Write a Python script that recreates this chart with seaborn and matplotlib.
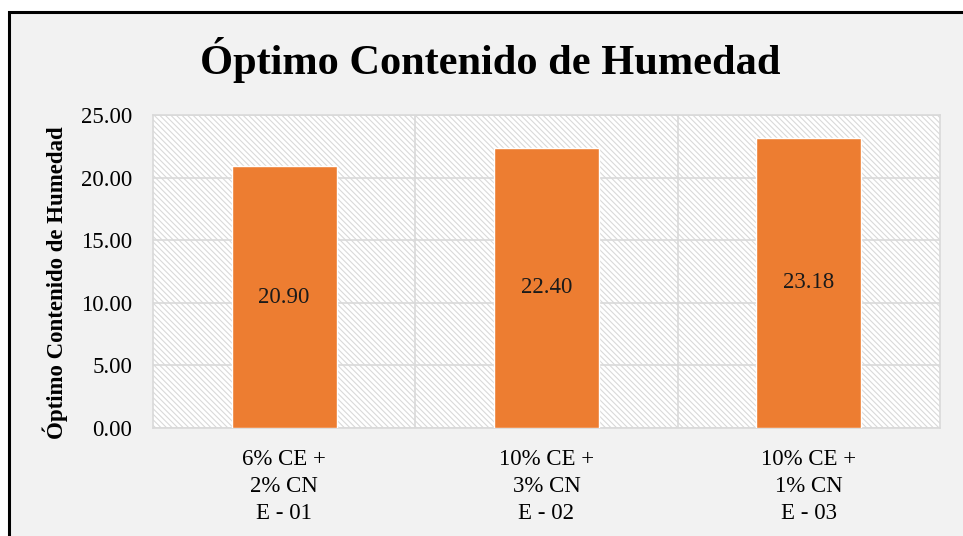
import matplotlib
matplotlib.use("Agg")
import matplotlib.pyplot as plt
import seaborn as sns
import pandas as pd
from matplotlib.patches import Rectangle

# datos
categorias = ["6% CE +\n2% CN\nE - 01", "10% CE +\n3% CN\nE - 02", "10% CE +\n1% CN\nE - 03"]
humedad = [20.90, 22.40, 23.18]
yticks = [0, 5, 10, 15, 20, 25]

df = pd.DataFrame({"ensayo": categorias, "och": humedad})

sns.set_style("white")
plt.rcParams["font.family"] = ["Liberation Serif", "DejaVu Serif"]
plt.rcParams["text.color"] = "black"
plt.rcParams["xtick.color"] = "black"
plt.rcParams["ytick.color"] = "black"
plt.rcParams["axes.labelcolor"] = "black"
plt.rcParams["hatch.color"] = "#D9D9D9"
plt.rcParams["hatch.linewidth"] = 0.8

fig = plt.figure(figsize=(9.63, 5.36), dpi=100)
fig.patch.set_facecolor("white")
# marco del grafico
fig.patches.append(Rectangle((9/963, -0.01), 1.0, 1 - 12/536 + 0.01, transform=fig.transFigure,
                             facecolor="#F2F2F2", edgecolor="black", linewidth=2.2, zorder=-5))

ax = fig.add_axes([153/963, 1 - 428/536, (940 - 153)/963, (428 - 115)/536])
ax.set_facecolor("white")
ax.add_patch(Rectangle((0, 0), 1, 1, transform=ax.transAxes, facecolor="white",
                       hatch="\\\\\\\\\\\\", edgecolor="#D9D9D9", linewidth=0, zorder=0))

sns.barplot(data=df, x="ensayo", y="och", color="#ED7D31", width=0.4, saturation=1, ax=ax, zorder=3)

for i, v in enumerate(humedad):
    ax.text(i, v / 2, f"{v:.2f}", ha="center", va="center", fontsize=16.5, color="#1a1a1a", zorder=4)

ax.set_ylim(0, 25)
ax.set_xlim(-0.5, 2.5)
ax.set_yticks(yticks)
ax.set_yticklabels([f"{t:.2f}" for t in yticks], fontsize=16.5)
ax.tick_params(axis="x", labelsize=16.5, length=0, pad=15)
ax.tick_params(axis="y", length=0, pad=15)
for lab in ax.get_xticklabels():
    lab.set_linespacing(1.38)

ax.grid(axis="y", color="#D9D9D9", linewidth=1.2, zorder=1)
ax.set_axisbelow(True)
for xv in [0.5, 1.5]:
    ax.axvline(xv, color="#D9D9D9", linewidth=1.2, zorder=1)
for s in ax.spines.values():
    s.set_color("#D9D9D9")
    s.set_linewidth(1.2)

ax.set_xlabel("")
ax.set_ylabel("Óptimo Contenido de Humedad", fontsize=16.5, fontweight="bold")
ax.yaxis.set_label_coords(-0.108, 0.463)
fig.text(490/963, 1 - 60/536, "Óptimo Contenido de Humedad", ha="center", va="center",
         fontsize=30.5, fontweight="bold")

fig.savefig("out.png", dpi=100)
